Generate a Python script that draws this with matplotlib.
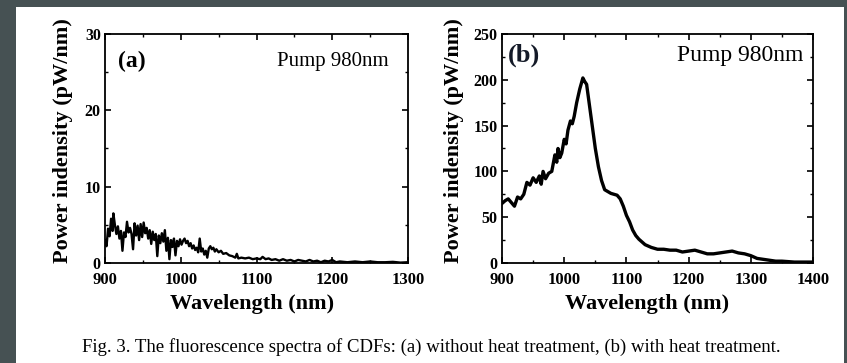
import matplotlib
matplotlib.use('Agg')
import matplotlib.pyplot as plt
from matplotlib.patches import Rectangle
from matplotlib.ticker import MultipleLocator

plt.rcParams.update({
    'font.family': 'Liberation Serif',
    'xtick.direction': 'in',
    'ytick.direction': 'in',
    'xtick.top': True,
    'ytick.right': True,
    'axes.linewidth': 1.3,
})

# (a) without heat treatment
wl_a = [900, 902, 904, 906, 908, 910, 911, 913, 915, 917, 919, 921, 923, 925, 927, 929,
        931, 933, 935, 937, 939, 941, 943, 945, 947, 949, 951, 953, 955, 957, 959, 961,
        963, 965, 967, 969, 971, 973, 975, 977, 979, 981, 983, 985, 987, 989, 991, 993,
        995, 997, 999, 1001, 1003, 1005, 1007, 1009, 1011, 1013, 1015, 1017, 1019, 1021,
        1023, 1025, 1027, 1029, 1031, 1033, 1035, 1037, 1039, 1041, 1043, 1045, 1047, 1050,
        1053, 1056, 1060, 1064, 1068, 1072, 1074, 1076, 1080, 1085, 1090, 1095, 1100, 1105,
        1108, 1112, 1116, 1120, 1125, 1130, 1135, 1140, 1145, 1150, 1155, 1160, 1165, 1170,
        1175, 1180, 1185, 1190, 1195, 1200, 1205, 1210, 1220, 1230, 1240, 1250, 1260, 1270,
        1280, 1290, 1300]
pw_a = [3.0, 2.2, 4.5, 3.5, 5.8, 4.2, 6.5, 5.0, 3.8, 4.8, 3.2, 4.2, 1.6, 4.0, 3.4, 5.4,
        4.0, 4.6, 3.8, 1.8, 5.2, 3.6, 4.9, 3.0, 5.1, 3.4, 5.3, 3.9, 4.6, 3.2, 4.3, 2.5,
        4.1, 3.0, 3.8, 0.9, 3.6, 2.6, 3.9, 2.8, 4.3, 1.6, 3.3, 0.5, 3.0, 2.1, 3.2, 1.0,
        2.9, 2.2, 3.1, 2.4, 2.9, 3.2, 2.6, 2.9, 2.2, 2.6, 1.9, 2.3, 1.7, 2.0,
        1.4, 3.2, 1.5, 1.9, 1.1, 1.6, 0.7, 1.9, 2.2, 1.8, 2.0, 1.5, 1.8, 1.4,
        1.6, 1.2, 1.3, 1.0, 0.9, 0.7, 1.2, 0.6, 0.7, 0.6, 0.7, 0.5, 0.6, 0.5,
        0.8, 0.5, 0.6, 0.4, 0.5, 0.3, 0.5, 0.3, 0.4, 0.2, 0.4, 0.3, 0.2, 0.4,
        0.2, 0.3, 0.1, 0.3, 0.2, 0.4, 0.1, 0.2, 0.1, 0.2, 0.1, 0.2, 0.1, 0.1,
        0.15, 0.05, 0.1]

# (b) with heat treatment
wl_b = [900, 905, 910, 915, 920, 925, 930, 935, 940, 945, 950, 955, 960, 963, 966, 970,
        975, 980, 985, 988, 990, 993, 996, 1000, 1003, 1006, 1010, 1013, 1016, 1020, 1025,
        1030, 1033, 1036, 1040, 1045, 1050, 1055, 1060, 1065, 1070, 1075, 1080, 1085, 1090,
        1095, 1100, 1105, 1110, 1115, 1120, 1125, 1130, 1140, 1150, 1160, 1170, 1180, 1190,
        1200, 1210, 1220, 1230, 1240, 1250, 1260, 1270, 1275, 1280, 1290, 1300, 1310, 1320,
        1330, 1340, 1350, 1360, 1370, 1380, 1390, 1400]
pw_b = [65, 68, 70, 66, 62, 72, 70, 75, 88, 85, 93, 88, 95, 86, 100, 92,
        98, 100, 118, 110, 125, 115, 120, 135, 130, 145, 155, 152, 160, 175, 190,
        202, 198, 195, 175, 150, 125, 105, 90, 80, 78, 76, 75, 74, 70,
        62, 52, 45, 36, 30, 26, 23, 20, 17, 15, 15, 14, 14, 12,
        13, 14, 12, 10, 10, 11, 12, 13, 12, 11, 10, 8, 5, 4,
        3, 2, 2, 1.5, 1, 1, 1, 1]

fig = plt.figure(figsize=(8.47, 3.63), dpi=100)
fig.patch.set_facecolor('#465153')
fig.patches.append(Rectangle((16 / 847, 0), 828 / 847, 356 / 363,
                             transform=fig.transFigure, facecolor='white',
                             edgecolor='none', zorder=-10))

ax1 = fig.add_axes([0.124, 0.2755, 0.3577, 0.6309])
ax2 = fig.add_axes([0.5927, 0.2755, 0.3672, 0.6309])

ax1.plot(wl_a, pw_a, color='black', lw=1.7)
ax1.set_xlim(900, 1300)
ax1.set_ylim(0, 30)
ax1.xaxis.set_major_locator(MultipleLocator(100))
ax1.xaxis.set_minor_locator(MultipleLocator(50))
ax1.yaxis.set_major_locator(MultipleLocator(10))
ax1.yaxis.set_minor_locator(MultipleLocator(5))

ax2.plot(wl_b, pw_b, color='black', lw=2.4)
ax2.set_xlim(900, 1400)
ax2.set_ylim(0, 250)
ax2.xaxis.set_major_locator(MultipleLocator(100))
ax2.xaxis.set_minor_locator(MultipleLocator(50))
ax2.yaxis.set_major_locator(MultipleLocator(50))
ax2.yaxis.set_minor_locator(MultipleLocator(25))

for ax in (ax1, ax2):
    ax.set_facecolor('white')
    ax.tick_params(which='major', length=4, width=1.2)
    ax.tick_params(axis='x', which='major', pad=6.5, labelsize=12)
    ax.tick_params(axis='y', which='major', pad=3, labelsize=11.5)
    ax.tick_params(which='minor', length=2, width=1.0)
    for lab in ax.get_xticklabels() + ax.get_yticklabels():
        lab.set_fontweight('bold')
    ax.set_xlabel('Wavelength (nm)', fontsize=16, fontweight='bold')
    ax.set_ylabel('Power indensity (pW/nm)', fontsize=16, fontweight='bold')

ax1.xaxis.set_label_coords(0.485, -0.135)
ax1.yaxis.set_label_coords(-0.106, 0.533)
ax2.xaxis.set_label_coords(0.466, -0.135)
ax2.yaxis.set_label_coords(-0.122, 0.533)

ax1.text(0.043, 0.878, '(a)', transform=ax1.transAxes, fontsize=17,
         fontweight='bold', ha='left', va='center')
ax1.text(0.937, 0.878, 'Pump 980nm', transform=ax1.transAxes, fontsize=15,
         ha='right', va='center')
ax2.text(0.019, 0.908, '(b)', transform=ax2.transAxes, fontsize=19,
         fontweight='bold', ha='left', va='center', color='#141a28')
ax2.text(0.968, 0.908, 'Pump 980nm', transform=ax2.transAxes, fontsize=17,
         ha='right', va='center')

fig.text(431 / 847, 1 - 347 / 363,
         'Fig. 3. The fluorescence spectra of CDFs: (a) without heat treatment, (b) with heat treatment.',
         fontsize=13.5, ha='center', va='center')

fig.savefig('out.png', dpi=100, facecolor=fig.get_facecolor())
